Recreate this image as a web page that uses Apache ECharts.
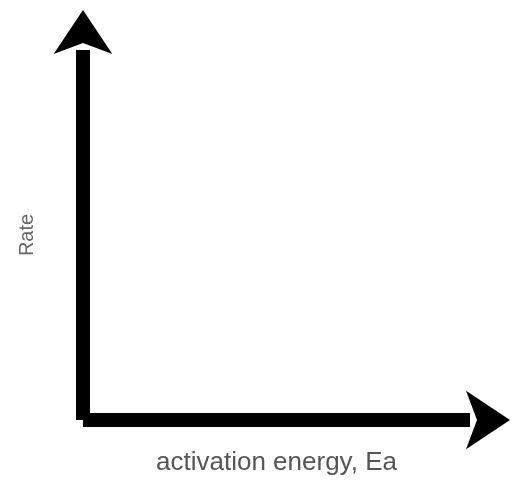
<!DOCTYPE html>
<html><head><meta charset="utf-8">
<script src="https://cdn.jsdelivr.net/npm/echarts@6/dist/echarts.min.js"></script>
<style>html,body{margin:0;background:#fff}#main{width:528px;height:486px}</style>
</head><body><div id="main"></div>
<script>
// curve fragment peeking in at the top-left corner (axis units)
var curveX = [-2.6, -2.2, -1.9, -1.6];
var curveY = [10.85, 11.03, 11.25, 11.6];

var myChart = echarts.init(document.getElementById('main'));
var axisStyle = {
    show: true,
    symbol: ['none', 'arrow'],
    symbolSize: [44, 44],
    symbolOffset: [0, 40],
    lineStyle: { color: '#000', width: 14, cap: 'butt' }
};
var option = {
    animation: false,
    grid: { left: 83, right: 58, top: 50, bottom: 66 },
    xAxis: {
        type: 'value', min: 0, max: 10,
        name: 'activation energy, Ea',
        nameLocation: 'middle', nameGap: 30,
        nameTextStyle: { fontSize: 26, color: '#555', fontFamily: 'Liberation Sans' },
        axisLine: axisStyle, axisTick: { show: false }, axisLabel: { show: false }, splitLine: { show: false }
    },
    yAxis: {
        type: 'value', min: 0, max: 10,
        name: 'Rate',
        nameLocation: 'middle', nameGap: 46,
        nameTextStyle: { fontSize: 20, color: '#666', fontFamily: 'Liberation Sans' },
        axisLine: axisStyle, axisTick: { show: false }, axisLabel: { show: false }, splitLine: { show: false }
    },
    series: [{
        type: 'line', clip: false, symbol: 'none', smooth: true,
        lineStyle: { color: '#000', width: 5 },
        data: curveX.map(function (x, i) { return [x, curveY[i]]; })
    }]
};
myChart.setOption(option);
</script></body></html>
